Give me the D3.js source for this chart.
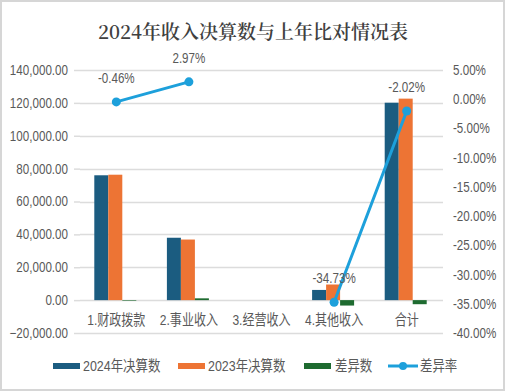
<!DOCTYPE html>
<html><head><meta charset="utf-8">
<script src="https://cdn.jsdelivr.net/npm/d3@7/dist/d3.min.js"></script>
<style>
html,body{margin:0;padding:0;background:#fff;}
svg{display:block;}
</style></head>
<body><svg id="c" width="506" height="392"></svg>
<script>
const title = "2024年收入决算数与上年比对情况表";
const categories = ["1.财政拨款","2.事业收入","3.经营收入","4.其他收入","合计"];
const seriesNames = ["2024年决算数","2023年决算数","差异数","差异率"];
const v2024 = [75950, 37950, 0, 6200, 120100];
const v2023 = [76300, 36860, 0, 9500, 122580];
const diff = [-350, 1090, 0, -3300, -2480];
const rate = [-0.46, 2.97, null, -34.73, -2.02];
const rateLabels = ["-0.46%","2.97%","","-34.73%","-2.02%"];
const leftTicks = [-20000,0,20000,40000,60000,80000,100000,120000,140000];
const rightTicks = [5,0,-5,-10,-15,-20,-25,-30,-35,-40];
const colors = ["#1b5c80","#ed7434","#1e6b30","#1da0db"];

const svg = d3.select("#c");
const W = 506, H = 392;
const font = "'Liberation Sans',Arial,'Noto Sans CJK SC',sans-serif";
const cjk = "'Liberation Sans','Noto Sans CJK SC',sans-serif";
const SX = 0.83;
function condense(sel){
  sel.each(function(){
    const t = d3.select(this);
    const xv = +t.attr("x") || 0;
    t.attr("x", xv/SX).attr("transform", `scale(${SX},1)`);
  });
}

svg.append("rect").attr("x",1).attr("y",1).attr("width",W-3).attr("height",H-3)
  .attr("fill","#fff").attr("stroke","#d6d6d6").attr("stroke-width",2);

svg.append("text").attr("x",253).attr("y",39).attr("text-anchor","middle")
  .attr("font-family","'Noto Serif CJK SC','Noto Sans CJK SC',serif").attr("font-size",19)
  .attr("font-weight",600).attr("fill","#404040").text(title);

const x0 = 80, x1 = 443, yTop = 70, yBot = 333;
const x = d3.scaleBand().domain(categories).range([x0,x1]);
const yL = d3.scaleLinear().domain([-20000,140000]).range([yBot,yTop]);
const yR = d3.scaleLinear().domain([-40,5]).range([yBot,yTop]);

// gridlines
svg.append("g").selectAll("line").data(leftTicks).join("line")
  .attr("x1",x0).attr("x2",x1).attr("y1",d=>Math.round(yL(d))+0.5).attr("y2",d=>Math.round(yL(d))+0.5)
  .attr("stroke","#dcdcdc").attr("stroke-width",1.5);

// left axis
const gl = svg.append("g").attr("transform",`translate(${x0},0)`)
  .call(d3.axisLeft(yL).tickValues(leftTicks).tickSize(6).tickPadding(6).tickFormat(d3.format(",.2f")));
gl.select(".domain").remove();
gl.selectAll(".tick line").attr("stroke","#dcdcdc").attr("stroke-width",1.5);
gl.selectAll("text").attr("font-family",font).attr("font-size",14).attr("fill","#595959").call(condense);

// right axis
const gr = svg.append("g").attr("transform",`translate(${x1},0)`)
  .call(d3.axisRight(yR).tickValues(rightTicks).tickSize(0).tickPadding(10).tickFormat(d=>d.toFixed(2)+"%"));
gr.select(".domain").remove();
gr.selectAll("text").attr("font-family",font).attr("font-size",14).attr("fill","#595959").call(condense);

// bars
const inner = d3.scaleBand().domain([0,1,2]).range([0,42]);
const off = (x.bandwidth()-42)/2 - 1;
const barSeries = [v2024, v2023, diff];
barSeries.forEach((vals,si)=>{
  svg.append("g").selectAll("rect").data(vals).join("rect")
    .attr("x",(d,i)=>x(categories[i])+off+inner(si))
    .attr("width",inner.bandwidth())
    .attr("y",d=>Math.min(yL(d),yL(0)))
    .attr("height",d=>Math.abs(yL(d)-yL(0)))
    .attr("fill",colors[si]);
});

// line
const pts = rate.map((r,i)=>({r,i}));
const line = d3.line().defined(d=>d.r!==null)
  .x(d=>x(categories[d.i])+x.bandwidth()/2).y(d=>yR(d.r));
svg.append("path").datum(pts).attr("d",line).attr("fill","none")
  .attr("stroke",colors[3]).attr("stroke-width",3);
svg.append("g").selectAll("circle").data(pts.filter(d=>d.r!==null)).join("circle")
  .attr("cx",d=>x(categories[d.i])+x.bandwidth()/2).attr("cy",d=>yR(d.r)).attr("r",4.5)
  .attr("fill",colors[3]);
svg.append("g").selectAll("text").data(pts.filter(d=>d.r!==null)).join("text")
  .attr("x",d=>x(categories[d.i])+x.bandwidth()/2).attr("y",d=>yR(d.r)-19)
  .attr("text-anchor","middle").attr("font-family",font).attr("font-size",14).attr("fill","#595959")
  .text(d=>rateLabels[d.i]).call(condense);

// x labels
svg.append("g").selectAll("text").data(categories).join("text")
  .attr("x",d=>x(d)+x.bandwidth()/2).attr("y",325).attr("text-anchor","middle")
  .attr("font-family",cjk).attr("font-size",14.5).attr("fill","#595959").text(d=>d).call(condense);

// legend
const leg = [
  {n:seriesNames[0],c:colors[0],sx:53,tx:83,t:"rect"},
  {n:seriesNames[1],c:colors[1],sx:178,tx:208,t:"rect"},
  {n:seriesNames[2],c:colors[2],sx:304,tx:335,t:"rect"},
  {n:seriesNames[3],c:colors[3],sx:388,tx:420,t:"line"}
];
const lg = svg.append("g");
leg.forEach(l=>{
  if(l.t==="rect"){
    lg.append("rect").attr("x",l.sx).attr("y",363).attr("width",27).attr("height",6).attr("fill",l.c);
  } else {
    lg.append("line").attr("x1",l.sx).attr("x2",l.sx+30).attr("y1",366).attr("y2",366).attr("stroke",l.c).attr("stroke-width",3);
    lg.append("circle").attr("cx",l.sx+15).attr("cy",366).attr("r",4).attr("fill",l.c);
  }
  lg.append("text").attr("x",l.tx).attr("y",371).attr("font-family",cjk).attr("font-size",15)
    .attr("fill","#595959").text(l.n).call(condense);
});
</script></body></html>
